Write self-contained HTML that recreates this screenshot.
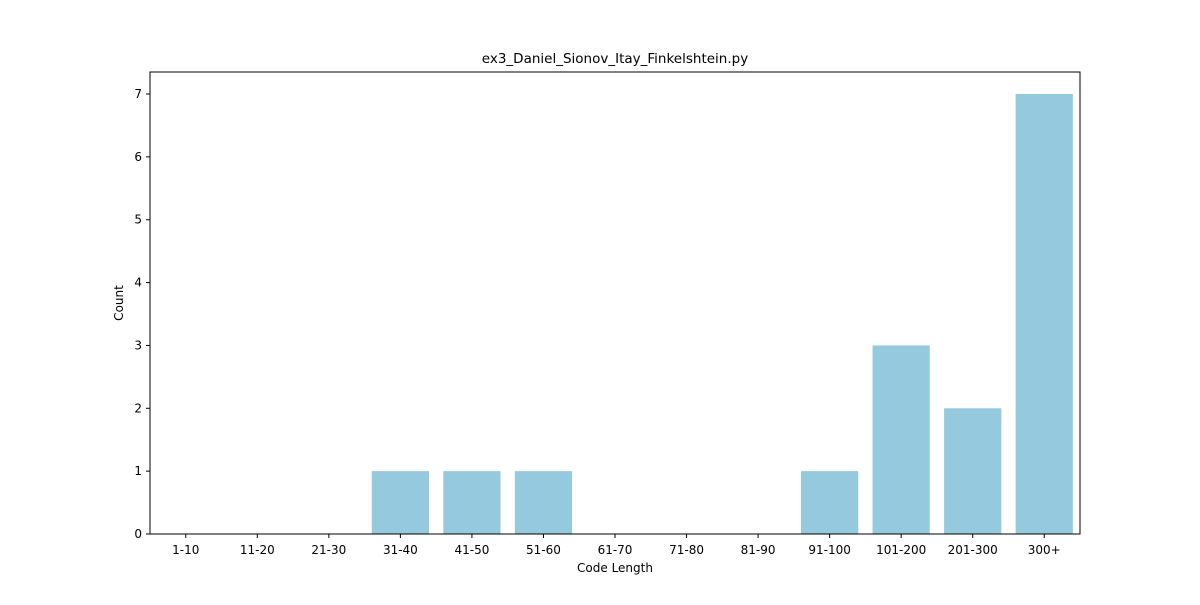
<!DOCTYPE html>
<html><head><meta charset="utf-8"><style>
body{margin:0;background:#fff}
svg text{font-family:"DejaVu Sans","Liberation Sans",sans-serif;fill:#000}
</style></head><body>
<svg id="chart" width="1200" height="600" xmlns="http://www.w3.org/2000/svg">
<text x="615" y="63" text-anchor="middle" font-size="13.5">ex3_Daniel_Sionov_Itay_Finkelshtein.py</text>
<g id="bars"></g>
<g id="xticks"></g>
<g id="yticks"></g>
<rect x="150" y="72" width="930" height="462" fill="none" stroke="#000" stroke-width="1"/>
<text x="615" y="572" text-anchor="middle" font-size="12">Code Length</text>
<text transform="translate(123,303) rotate(-90)" text-anchor="middle" font-size="12">Count</text>
</svg>
<script>
const categories=["1-10","11-20","21-30","31-40","41-50","51-60","61-70","71-80","81-90","91-100","101-200","201-300","300+"];
const counts=[0,0,0,1,1,1,0,0,0,1,3,2,7];
const yTickValues=[0,1,2,3,4,5,6,7];
const L=150,R=1080,T=72,B=534;
const ymax=Math.max(...counts)*1.05||1;
const band=(R-L)/categories.length;
const xs=i=>L+band*(i+0.5);
const ys=v=>B-(B-T)*v/ymax;
const ns="http://www.w3.org/2000/svg";
const mk=(t,a)=>{const e=document.createElementNS(ns,t);for(const k in a)e.setAttribute(k,a[k]);return e;};
const gb=document.getElementById('bars'),gx=document.getElementById('xticks'),gy=document.getElementById('yticks');
counts.forEach((v,i)=>{
 const r=mk('rect',{x:xs(i)-band*0.4,y:ys(v),width:band*0.8,height:B-ys(v),fill:'#95c9de'});
 
 
 gb.appendChild(r);
});
categories.forEach((c,i)=>{
 const l=mk('line',{x1:xs(i),x2:xs(i),y1:B,y2:B+4,stroke:'#000'});
 
 
 gx.appendChild(l);
 const t=mk('text',{x:xs(i),y:B+20,'text-anchor':'middle','font-size':'12'});
 t.textContent=c;
 
 
 gx.appendChild(t);
});
yTickValues.forEach(v=>{
 const l=mk('line',{x1:L-4,x2:L,y1:ys(v),y2:ys(v),stroke:'#000'});
 
 
 gy.appendChild(l);
 const t=mk('text',{x:L-8,y:ys(v)+4,'text-anchor':'end','font-size':'12'});
 t.textContent=v;
 
 
 gy.appendChild(t);
});
</script>
</body></html>
